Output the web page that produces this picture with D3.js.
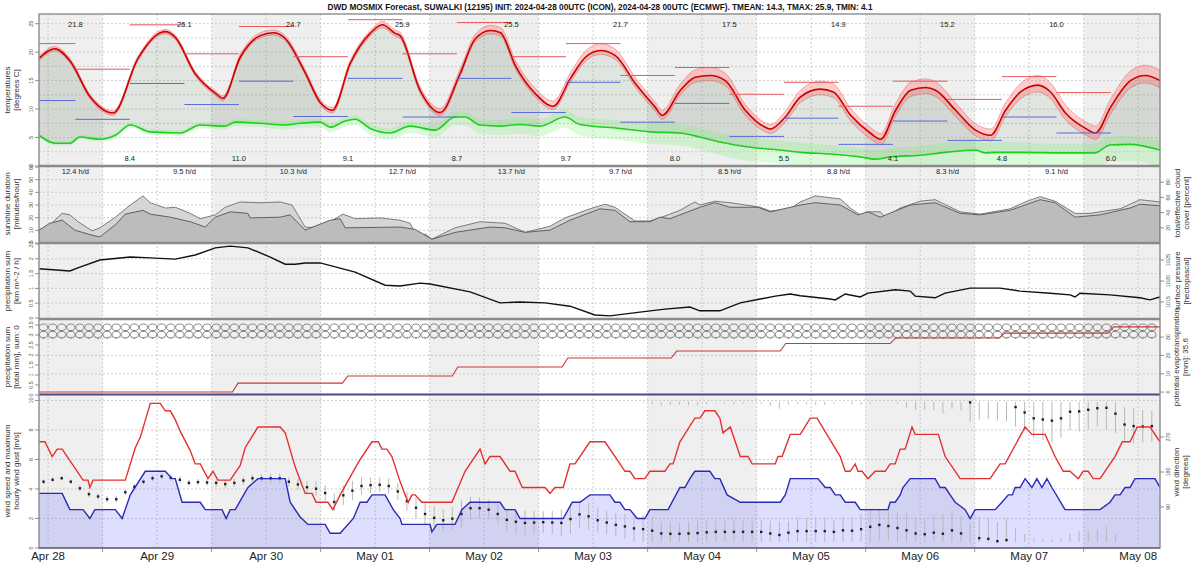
<!DOCTYPE html>
<html>
<head>
<meta charset="utf-8">
<script src="https://cdn.jsdelivr.net/npm/d3@7"></script>
<style>
  body { margin: 0; background: #fff; }
  svg { display: block; font-family: "Liberation Sans", Arial, sans-serif; }
</style>
</head>
<body>
<svg id="chart" width="1200" height="571"></svg>
<script>
const title = 'DWD MOSMIX Forecast, SUWALKI (12195) INIT: 2024-04-28 00UTC (ICON), 2024-04-28 00UTC (ECMWF). TMEAN: 14.3, TMAX: 25.9, TMIN: 4.1';

// hours since 2024-04-28 00UTC
const startHour = -2, endHour = 244.8;

const maxLabels = ['21.8', '25.1', '24.7', '25.9', '25.5', '21.7', '17.5', '14.9', '15.2', '16.0'];
const minLabels = ['8.4', '11.0', '9.1', '8.7', '9.7', '8.0', '5.5', '4.1', '4.8', '6.0'];
const sunLabels = ['12.4 h/d', '9.5 h/d', '10.3 h/d', '12.7 h/d', '13.7 h/d', '9.7 h/d', '8.5 h/d', '8.8 h/d', '8.3 h/d', '9.1 h/d'];

// temperature [hour, degC]
const tempCurve = [[-2,18.9],[1.5,20.6],[4.8,18.5],[9.3,12.1],[14.3,9.3],[19.8,18.9],[24.7,23.4],[25.8,23.6],[28,22.6],[32.4,16.2],
  [36.8,12.8],[38.5,11.9],[42.3,19.1],[46.7,22.9],[49.6,23.4],[52.2,22.4],[56.6,16.4],[59.9,11.2],[62.6,9.8],[66.5,18],
  [70.9,23.3],[73.6,24.8],[76.4,23.3],[77.5,22.9],[81.9,13.3],[86.3,9.4],[90.7,16.2],[94,22.3],[97.4,23.8],[99.6,23.4],
  [102.9,17.6],[107.3,12.7],[111.2,10.5],[115,15.4],[118.3,19.1],[121.6,20.3],[124.9,19.4],[129.3,14.5],[133.7,10.3],[135.2,8.9],
  [139.2,13.3],[142.5,15.6],[145.8,15.9],[149.1,15.0],[153.5,9.8],[157.9,6.8],[159,6.5],[162.3,8.6],[165.6,12.1],[170,13.5],
  [172.9,13],[176.7,8.9],[181,5.8],[183.3,4.7],[186.6,9.8],[189.9,13.3],[193.2,13.8],[195.4,13.3],[199.8,9.8],[204.2,6.3],
  [207.5,5.4],[210.8,9.8],[214.1,13],[217.9,14.2],[220.7,13],[224,9.3],[228.4,6.6],[230.6,5.8],[233.9,10.3],[238.3,15],
  [241.6,15.9],[244.8,15]];
// ensemble spread [above, below]
const tempSpread = [[.4,.4],[.4,.4],[.4,.4],[.4,.4],[.4,.4],[.4,.4],[.4,.4],[.4,.4],[.4,.4],[.4,.4],
  [.4,.4],[.4,.4],[.5,.4],[.5,.4],[.5,.4],[.5,.4],[.5,.4],[.5,.4],[.5,.5],[.5,.5],
  [.5,.5],[.6,.5],[.6,.5],[.6,.5],[.6,.5],[.7,.5],[.8,.5],[.8,.5],[.9,.6],[.9,.6],
  [.9,.6],[.9,.6],[.9,.6],[1.0,.7],[1.1,.7],[1.2,.7],[1.1,.7],[1.0,.7],[.9,.7],[.9,.7],
  [1.1,.8],[1.3,.9],[1.4,.9],[1.3,.9],[1.0,.9],[.8,.8],[.8,.8],[1.0,.9],[1.2,1.0],[1.4,1.0],
  [1.4,1.0],[1.2,1.0],[1.0,1.0],[1.0,1.0],[1.2,1.0],[1.4,1.1],[1.5,1.1],[1.5,1.1],[1.3,1.1],[1.1,1.0],
  [1.1,1.0],[1.3,1.1],[1.5,1.2],[1.7,1.2],[1.6,1.2],[1.4,1.2],[1.2,1.1],[1.2,1.1],[1.4,1.2],[1.7,1.3],
  [1.8,1.3],[1.8,1.3]];

// dew point [hour, degC]
const dewCurve = [[-2,5.4],[1.5,4.0],[4.8,4.0],[7,5.1],[11.4,4.7],[14.8,5.4],[18.1,7.2],[22.5,6.0],[29.1,5.8],[33.5,7.2],
  [39,7.0],[41.2,7.7],[46.7,7.5],[52.2,7.2],[55.5,7.5],[59.9,7.7],[62.1,6.8],[65.4,7.9],[67.6,8.2],[70.9,6.6],
  [75.3,5.8],[79.7,7.0],[85.2,6.3],[89.6,8.6],[91.8,8.6],[95.1,7.2],[99.5,7.0],[103.9,7.3],[108.3,7.0],[113.8,8.6],
  [117.1,7.3],[125.9,6.6],[132.5,6.0],[139.1,5.8],[143.5,5.1],[147.9,4.2],[154.6,3.3],[161.2,2.8],[165.6,2.4],[172.2,2.1],
  [178.8,1.6],[182.1,1.2],[185.4,1.6],[192,1.9],[197.5,2.4],[204.1,2.8],[206.3,2.3],[208.5,2.4],[214,2.4],[222.8,2.3],
  [230.5,2.3],[233.8,3.7],[238.2,3.8],[244.8,2.8]];
const dewSpread = [[.4,.4],[.4,.4],[.4,.4],[.4,.4],[.4,.4],[.4,.5],[.5,.5],[.5,.5],[.5,.5],[.5,.6],
  [.5,.6],[.5,.7],[.6,.7],[.6,.8],[.6,.8],[.6,.9],[.6,.9],[.7,1.0],[.7,1.0],[.7,1.1],
  [.8,1.2],[.8,1.2],[.9,1.3],[1.0,1.4],[1.0,1.5],[1.0,1.5],[1.1,1.6],[1.2,1.7],[1.2,1.8],[1.3,1.9],
  [1.3,2.0],[1.4,2.0],[1.5,2.1],[1.5,2.2],[1.6,2.2],[1.6,2.3],[1.7,2.4],[1.7,2.4],[1.7,2.5],[1.6,2.5],
  [1.6,2.5],[1.5,2.5],[1.5,2.5],[1.6,2.6],[1.7,2.6],[1.8,2.7],[1.8,2.7],[1.8,2.7],[1.7,2.8],[1.6,2.8],
  [1.6,2.8],[1.5,2.9],[1.5,2.9],[1.6,3.0]];

// 12-hourly max / min bars
const segBounds = [-2, 6, 18, 30, 42, 54, 66, 78, 90, 102, 114, 126, 138, 150, 162, 174, 186, 198, 210, 222, 234];
const segRed = [21.5, 17, 24.8, 19.7, 24.5, 19.2, 25.7, 19.7, 25.2, 19.2, 21.5, 15.9, 17.3, 12.6, 14.7, 10.5, 14.9, 11.7, 15.7, 12.9];
const segBlue = [11.5, 8.2, 14.5, 10.8, 14.9, 8.7, 15.4, 8.6, 15.4, 9.4, 14.7, 7.7, 11, 5.2, 8.4, 3.8, 7.9, 4.5, 8.6, 5.8];

// cloud cover [hour, percent]
const cloudTotal = [[-2,17],[0.4,24],[3.1,39],[4.8,37],[6.6,28],[9.7,16],[11.4,20],[14.8,34],[18.1,50],[20.9,62],
  [22.5,53],[25.8,46],[28,47],[31.3,39],[33.5,32],[36.8,37],[39,47],[42.3,54],[46.7,53],[51.1,54],
  [53.7,50],[56.6,21],[59.9,20],[62.1,28],[64.9,38],[67.6,32],[73.1,33],[77.5,30],[79.7,26],[81.5,5],
  [83,12],[84.5,5],[89.6,20],[95.1,28],[100.6,26],[105,14],[110.5,22],[113.8,33],[119.3,45],[122.6,51],
  [124.8,47],[129.2,29],[132.5,29],[134.7,33],[139.1,43],[142.4,54],[143.5,50],[146.8,55],[150.2,53],[156.8,47],
  [159,42],[163.4,45],[165.6,54],[168.9,62],[174.4,58],[176.6,46],[178.8,37],[180.5,41],[183.2,41],[184.3,34],
  [187.6,46],[192,55],[195.3,57],[200.8,41],[205.2,38],[211.8,45],[215.1,54],[218.4,61],[221.7,55],[226.1,39],
  [229.4,39],[236,45],[240.4,57],[244.8,54]];
const cloudEff = [[-2,17],[0.4,26],[3.1,30],[5.9,17],[9.2,11],[11.4,8],[14.8,24],[17,38],[20.9,43],[22.5,38],
  [26.9,34],[31.3,28],[34.6,21],[36.8,34],[40.1,41],[44,39],[44.5,33],[51.1,34],[53.3,37],[56.6,17],
  [62.1,30],[64.3,32],[65.4,20],[77.5,21],[80.8,18],[84.5,5],[89.6,14],[97.3,21],[100.6,20],[105,14],
  [110.5,17],[114.9,30],[121.5,45],[124.8,43],[128.1,28],[132.5,28],[134.7,34],[136.9,32],[143.5,47],[146.8,53],
  [150.2,47],[156.3,47],[159,41],[165.6,50],[168.9,53],[174.4,50],[178.3,37],[180.5,41],[183.2,34],[189.8,50],
  [195.3,53],[200.8,39],[205.2,37],[211.8,43],[218.4,57],[221.7,53],[226.1,34],[231.6,37],[238.2,46],[240.4,51],
  [244.8,49]];

// surface pressure [hour, hPa]
const pressure = [[-2,1022.9],[4.8,1022.4],[7,1023.3],[11.4,1025],[18.1,1025.7],[22.5,1025.5],[28,1025.2],[32.4,1026.2],[36.8,1027.9],[40.1,1028.3],
  [44,1027.9],[48.9,1025.7],[52.2,1024],[54.4,1024],[56.6,1024.3],[59.9,1024.3],[67.6,1022.1],[74.2,1019],[77.5,1018.8],[81.9,1019.5],
  [84.1,1019.3],[92.9,1017.4],[99.5,1014.8],[103.9,1015],[109.4,1014.8],[114.9,1014],[120.4,1011.9],[123.7,1011.7],[130.3,1012.6],[135.8,1013.3],
  [141.3,1013.8],[143.5,1012.9],[147.9,1012.9],[152.4,1014.8],[156.8,1015.7],[160.1,1016.4],[163.4,1016.9],[165.6,1016.5],[172.2,1015.7],[173.3,1015.5],
  [175.5,1016.9],[178.8,1016.2],[180.5,1017.1],[186.5,1017.9],[189.8,1017.6],[190.9,1016.4],[195.3,1016],[197.5,1017.1],[203,1018.3],[209.6,1018.3],
  [214,1017.6],[220.6,1017.1],[225,1016.7],[226.1,1016.2],[227.2,1017.1],[233.8,1016.7],[240.4,1016],[242.6,1015.5],[244.8,1016.2]];

// cumulative potential evapotranspiration [hour, mm]
const petSum = [[-2,0],[40.6,0],[41.8,4.9],[64.8,4.9],[66,8.8],[89,8.8],[90.2,13.7],[113.2,13.7],[114.4,18.6],[137.2,18.6],
  [138.4,22.4],[161.2,22.4],[162.4,26.5],[185.4,26.5],[186.6,29.5],[209.4,29.5],[210.6,32.2],[233.4,32.2],[234.6,35.6],[244.8,35.6]];

// wind gust / wind speed [hour, m/s]
const gust = [[-2,7.2],[-0.7,7.2],[0.9,6.2],[2.0,6.7],[3.1,6.7],[7.7,4.6],[8.8,4.6],[9.2,4.1],[9.9,4.6],[17.0,4.6],
  [19.2,6.8],[20.3,7.5],[22.5,9.8],[24.7,9.8],[25.8,9.3],[26.9,9.3],[28.0,8.7],[29.1,7.9],[31.3,6.6],[32.4,5.7],
  [33.5,5.7],[35.2,4.7],[36.3,5.2],[37.4,4.6],[40.1,4.6],[42.3,5.6],[43.4,6.8],[46.2,8.2],[51.1,8.2],[52.2,7.8],
  [54.4,5.5],[55.5,4.6],[56.6,3.7],[58.1,3.7],[59.0,3.1],[61.6,3.1],[62.7,2.6],[64.3,3.6],[68.3,5.8],[71.3,7.2],
  [72.7,7.2],[73.5,6.7],[74.6,6.7],[75.7,6.2],[77.5,4.5],[78.6,3.6],[79.3,3.1],[80.1,3.6],[80.8,3.6],[82.3,3.1],
  [88.9,3.1],[90.3,4.1],[91.8,5.2],[95.1,6.7],[96.2,5.7],[97.3,6.2],[99.5,6.2],[101.7,5.2],[102.8,5.2],[104.4,4.1],
  [109.4,4.1],[110.5,3.7],[111.6,4.1],[113.4,4.1],[114.9,5.7],[116.0,5.7],[119.3,7.2],[122.6,7.2],[125.9,5.7],[127.0,5.2],
  [128.1,5.2],[129.2,4.7],[131.4,4.7],[132.5,5.2],[135.8,5.2],[136.9,5.7],[137.6,5.7],[139.1,7.2],[142.4,8.8],[143.5,8.8],
  [144.6,9.3],[146.8,9.3],[147.9,8.8],[148.6,7.8],[150.2,8.2],[151.3,7.2],[152.4,6.2],[154.1,6.2],[155.0,5.7],[160.1,5.7],
  [160.7,6.2],[161.6,6.2],[163.4,7.7],[165.6,7.7],[167.8,8.8],[169.3,8.8],[174.4,6.2],[175.5,5.2],[176.6,5.2],[177.7,5.7],
  [178.3,5.2],[179.2,5.2],[180.5,4.7],[182.1,5.2],[184.3,5.2],[185.4,5.7],[186.5,5.7],[187.6,6.7],[188.7,6.7],[190.2,8.2],
  [190.9,7.7],[196.0,7.7],[197.5,6.2],[200.8,4.7],[207.4,4.7],[209.6,5.7],[210.7,5.7],[215.1,8.2],[216.6,7.7],[219.5,7.7],
  [221.7,6.2],[223.5,5.2],[225.0,5.2],[226.8,4.7],[227.9,5.2],[229.0,5.2],[230.1,4.7],[231.6,4.7],[234.9,6.2],[236.5,7.2],
  [238.2,7.2],[239.8,8.2],[242.6,8.2],[244.8,7.2]];
const wind = [[-2,3.7],[3.1,3.7],[4.8,2.6],[7.7,2.6],[9.2,2.0],[10.3,2.6],[14.8,2.6],[16.3,2.0],[18.1,3.6],[21.4,5.2],
  [25.8,5.2],[27.3,4.7],[28.0,4.7],[29.5,3.1],[33.5,3.1],[34.6,2.6],[38.3,2.6],[39.2,2.0],[40.1,2.6],[41.2,2.6],
  [44.0,4.1],[46.2,4.7],[52.2,4.7],[53.3,3.1],[55.5,2.1],[57.2,1.6],[61.0,1.6],[62.1,1.0],[64.3,1.0],[67.2,2.0],
  [68.7,3.1],[70.2,3.1],[71.3,3.6],[74.2,3.6],[76.0,2.6],[77.5,2.0],[77.9,1.6],[84.1,1.6],[84.5,1.1],[85.6,1.6],
  [89.6,1.6],[91.1,2.6],[92.9,3.1],[99.5,3.1],[100.6,2.6],[102.8,2.6],[103.9,2.0],[113.4,2.0],[115.4,3.1],[117.1,3.1],
  [119.3,3.6],[123.7,3.6],[124.8,3.1],[125.9,3.1],[127.0,2.6],[128.1,2.6],[129.7,2.0],[131.4,2.0],[132.5,2.6],[136.5,2.6],
  [139.1,4.1],[140.2,4.1],[141.3,4.7],[142.4,5.2],[145.7,5.2],[146.8,4.7],[147.9,4.7],[149.5,3.6],[152.4,3.1],[161.2,3.1],
  [162.3,3.6],[163.4,4.7],[169.5,4.7],[171.1,4.1],[172.2,4.1],[173.3,3.6],[174.4,3.6],[175.5,3.1],[177.7,3.1],[178.8,2.6],
  [184.9,2.6],[185.4,3.1],[186.5,3.1],[187.6,3.6],[188.2,4.1],[189.8,4.7],[195.3,4.7],[196.4,4.1],[197.5,4.1],[198.6,3.6],
  [199.7,3.1],[201.9,2.6],[203.0,2.0],[204.1,2.6],[208.5,2.6],[210.0,3.1],[211.4,3.6],[212.3,3.6],[212.9,4.1],[214.0,4.1],
  [215.1,4.7],[216.6,4.1],[217.7,4.7],[218.8,4.1],[219.9,4.7],[221.0,4.1],[223.9,2.6],[231.6,2.6],[233.8,3.1],[234.9,3.6],
  [236.0,3.6],[237.1,4.1],[238.2,4.1],[239.3,4.7],[243.7,4.7],[244.8,4.1]];

// wind direction every 2 h from hour -1 [degrees] and its spread [+/- degrees]
const dirFirstHour = -1, dirStepHours = 2;
const windDir = [155,160,164,155,138,123,117,110,110,128,142,155,164,169,165,160,152,154,153,152,
  149,152,158,164,164,164,164,155,148,141,137,126,103,120,132,144,146,147,144,130,
  105,88,72,62,56,60,72,87,87,83,72,57,52,49,50,51,50,49,59,71,
  66,56,50,44,40,35,33,29,22,21,21,22,23,25,26,26,26,26,26,26,
  22,18,24,28,28,28,28,26,30,29,33,39,44,41,36,30,22,20,24,21,
  30,22,359,10,8,2,5,347,333,318,315,312,318,335,336,340,344,345,330,302,
  298,297,298];
const dirSpread = [6,6,6,6,8,8,8,8,8,8,8,8,8,8,8,8,8,8,8,10,
  10,10,10,10,10,12,12,12,14,16,18,20,22,25,25,22,20,18,20,22,
  25,28,30,30,28,30,35,30,28,25,25,28,30,32,30,28,30,35,38,36,
  35,32,30,30,32,35,36,35,30,28,28,30,32,30,28,30,32,30,28,30,
  32,35,30,32,34,36,35,30,32,35,40,42,40,38,40,45,42,40,45,50,
  48,45,50,55,52,50,55,50,48,50,52,55,50,48,52,50,48,55,50,45,
  45,42,40];

// ---------------------------------------------------------------
const svg = d3.select('#chart');
const left = 39, right = 1160;
const T0 = Date.UTC(2024, 3, 28, 0);
const toDate = h => new Date(T0 + h * 3600e3);

const x = d3.scaleUtc().domain([toDate(startHour), toDate(endHour)]).range([left, right]);
const hx = h => x(toDate(h));

const panels = {
  temp: [14, 166], sun: [166, 243], pres: [243, 319], prec: [319, 395], wind: [395, 548]
};

const yT = d3.scaleLinear().domain([0, 26.7]).range([166, 14]);
const ySun = d3.scaleLinear().domain([0, 60]).range([243, 167]);
const yCloud = d3.scaleLinear().domain([0, 100]).range([243, 167]);
const yPrecRate = d3.scaleLinear().domain([0, 2.5]).range([318, 244]);
const yPres = d3.scaleLinear().domain([1010.95, 1029.05]).range([319, 243]);
const yPrecSum = d3.scaleLinear().domain([0, 3.5]).range([395, 325]);
const yPet = d3.scaleLinear().domain([-1.6, 39.9]).range([395, 319]);
const yWind = d3.scaleLinear().domain([0, 10.37]).range([548, 395]);
const yDir = d3.scaleLinear().domain([0, 360]).range([542, 402]);

const defs = svg.append('defs');
Object.entries(panels).forEach(([k, p]) => {
  defs.append('clipPath').attr('id', 'clip-' + k)
    .append('rect').attr('x', left).attr('y', p[0]).attr('width', right - left).attr('height', p[1] - p[0]);
});

// day shading
const bg = svg.append('g');
for (let h = -12; h < endHour; h += 48) {
  const a = Math.max(h, startHour), b = Math.min(h + 24, endHour);
  bg.append('rect').attr('x', hx(a)).attr('y', 14).attr('width', hx(b) - hx(a)).attr('height', 548 - 14)
    .attr('fill', '#efefef');
}

// grid
const grid = svg.append('g').attr('stroke', '#c2c2c2').attr('stroke-width', 0.8).attr('stroke-dasharray', '2,2');
d3.range(0, 241, 12).forEach(h => {
  grid.append('line').attr('x1', hx(h)).attr('x2', hx(h)).attr('y1', 14).attr('y2', 548);
});
const hGrid = ys => ys.forEach(y => grid.append('line').attr('x1', left).attr('x2', right).attr('y1', y).attr('y2', y));
hGrid(d3.range(2.5, 26, 2.5).map(yT));
hGrid([10, 20, 30, 40, 50].map(ySun));
hGrid([0.5, 1, 1.5, 2].map(yPrecRate));
hGrid([10, 20, 30].map(yPet));
hGrid([2, 4, 6, 8, 10].map(yWind));

// ---------------- temperature panel
const tp = svg.append('g').attr('clip-path', 'url(#clip-temp)');
const mono = d3.curveMonotoneX;

defs.append('clipPath').attr('id', 'above-dew').append('path')
  .attr('d', d3.area().x(d => hx(d[0])).y0(14).y1(d => yT(d[1])).curve(mono)(dewCurve));
tp.append('path')
  .attr('d', d3.area().x(d => hx(d[0])).y0(166).y1(d => yT(d[1])).curve(mono)(tempCurve))
  .attr('fill', 'rgba(100,125,100,0.2)').attr('clip-path', 'url(#above-dew)');

const dewBand = dewCurve.map((d, i) => [d[0], d[1] + dewSpread[i][0], d[1] - dewSpread[i][1]]);
tp.append('path')
  .attr('d', d3.area().x(d => hx(d[0])).y0(d => yT(d[2])).y1(d => yT(d[1])).curve(mono)(dewBand))
  .attr('fill', 'rgba(110,240,110,0.25)');
tp.append('path')
  .attr('d', d3.line().x(d => hx(d[0])).y(d => yT(d[1])).curve(mono)(dewCurve))
  .attr('fill', 'none').attr('stroke', '#1fcf1f').attr('stroke-width', 1.6);

const tempBand = tempCurve.map((d, i) => [d[0], d[1] + tempSpread[i][0], d[1] - tempSpread[i][1]]);
tp.append('path')
  .attr('d', d3.area().x(d => hx(d[0])).y0(d => yT(d[2])).y1(d => yT(d[1])).curve(mono)(tempBand))
  .attr('fill', 'rgba(255,90,90,0.3)').attr('stroke', 'rgba(230,60,60,0.55)').attr('stroke-width', 0.7);
tp.append('path')
  .attr('d', d3.line().x(d => hx(d[0])).y(d => yT(d[1])).curve(mono)(tempCurve))
  .attr('fill', 'none').attr('stroke', '#cc0000').attr('stroke-width', 1.6);

segRed.forEach((v, i) => {
  tp.append('line').attr('x1', hx(segBounds[i])).attr('x2', hx(segBounds[i + 1]))
    .attr('y1', yT(v)).attr('y2', yT(v)).attr('stroke', '#e85a5a').attr('stroke-width', 1);
});
segBlue.forEach((v, i) => {
  tp.append('line').attr('x1', hx(segBounds[i])).attr('x2', hx(segBounds[i + 1]))
    .attr('y1', yT(v)).attr('y2', yT(v)).attr('stroke', '#5a6ad8').attr('stroke-width', 1);
});

const labels = svg.append('g').attr('font-size', 7.5).attr('fill', '#222').attr('text-anchor', 'middle');
maxLabels.forEach((t, i) => labels.append('text').attr('x', hx(6 + 24 * i)).attr('y', 27).text(t));
minLabels.forEach((t, i) => labels.append('text').attr('x', hx(18 + 24 * i)).attr('y', 161).text(t));
sunLabels.forEach((t, i) => labels.append('text').attr('x', hx(6 + 24 * i)).attr('y', 174).text(t));

// ---------------- cloud panel
const sp = svg.append('g').attr('clip-path', 'url(#clip-sun)');
sp.append('path')
  .attr('d', d3.area().x(d => hx(d[0])).y0(243).y1(d => yCloud(d[1]))(cloudTotal))
  .attr('fill', '#d5d5d5').attr('stroke', '#6e6e6e').attr('stroke-width', 0.9);
sp.append('path')
  .attr('d', d3.area().x(d => hx(d[0])).y0(243).y1(d => yCloud(d[1]))(cloudEff))
  .attr('fill', '#bcbcbc').attr('stroke', '#555').attr('stroke-width', 0.9);

// ---------------- pressure panel
svg.append('path').attr('clip-path', 'url(#clip-pres)')
  .attr('d', d3.line().x(d => hx(d[0])).y(d => yPres(d[1]))(pressure))
  .attr('fill', 'none').attr('stroke', '#111').attr('stroke-width', 1.4);

// ---------------- precipitation panel
const pp = svg.append('g').attr('clip-path', 'url(#clip-prec)');
d3.range(windDir.length).forEach(i => {
  const cx = hx(dirFirstHour + dirStepHours * i);
  [327.3, 334.6].forEach(cy => {
    pp.append('ellipse').attr('cx', cx).attr('cy', cy).attr('rx', 4.1).attr('ry', 3.3)
      .attr('fill', 'none').attr('stroke', '#5a5a5a').attr('stroke-width', 0.7);
    pp.append('line').attr('x1', cx).attr('x2', cx).attr('y1', cy + 3.3).attr('y2', cy + 4.4)
      .attr('stroke', '#5a5a5a').attr('stroke-width', 0.7);
  });
});
pp.append('path')
  .attr('d', d3.line().x(d => hx(d[0])).y(d => yPet(d[1]))(petSum))
  .attr('fill', 'none').attr('stroke', '#c83a3a').attr('stroke-width', 1.1);

// ---------------- wind panel
const wp = svg.append('g').attr('clip-path', 'url(#clip-wind)');
wp.append('path')
  .attr('d', d3.area().x(d => hx(d[0])).y0(548).y1(d => yWind(d[1]))(wind))
  .attr('fill', 'rgba(90,90,255,0.2)');

windDir.forEach((d, i) => {
  const cx = hx(dirFirstHour + dirStepHours * i);
  const lo = d - dirSpread[i], hi = d + dirSpread[i];
  const parts = [[Math.max(lo, 0), Math.min(hi, 360)]];
  if (lo < 0) parts.push([360 + lo, 360]);
  if (hi > 360) parts.push([0, hi - 360]);
  parts.forEach(p => wp.append('line').attr('x1', cx).attr('x2', cx)
    .attr('y1', yDir(p[0])).attr('y2', yDir(p[1])).attr('stroke', '#b8b8b8').attr('stroke-width', 1));
});
windDir.forEach((d, i) => {
  const cx = hx(dirFirstHour + dirStepHours * i);
  wp.append('rect').attr('x', cx - 1.2).attr('y', yDir(d) - 1.2).attr('width', 2.4).attr('height', 2.4).attr('fill', '#222');
});
wp.append('path')
  .attr('d', d3.line().x(d => hx(d[0])).y(d => yWind(d[1]))(gust))
  .attr('fill', 'none').attr('stroke', '#e53030').attr('stroke-width', 1.4);
wp.append('path')
  .attr('d', d3.line().x(d => hx(d[0])).y(d => yWind(d[1]))(wind))
  .attr('fill', 'none').attr('stroke', '#2a2ab8').attr('stroke-width', 1.4);

// precipitation sum (zero) line
svg.append('line').attr('x1', left).attr('x2', right).attr('y1', yPrecSum(0) - 0.5).attr('y2', yPrecSum(0) - 0.5)
  .attr('stroke', '#4a4a86').attr('stroke-width', 2);

// ---------------- frames
const frame = svg.append('g').attr('fill', 'none');
frame.append('rect').attr('x', left).attr('y', 14).attr('width', right - left).attr('height', 548 - 14)
  .attr('stroke', '#8c8c8c').attr('stroke-width', 1.4);
[166, 243, 319].forEach(y => frame.append('line').attr('x1', left).attr('x2', right).attr('y1', y).attr('y2', y)
  .attr('stroke', '#8a8a8a').attr('stroke-width', 2.4));
frame.append('line').attr('x1', left).attr('x2', right).attr('y1', 548).attr('y2', 548)
  .attr('stroke', '#6a6a80').attr('stroke-width', 1.4);

// ---------------- axes
const ax = svg.append('g').attr('font-size', 5.5).attr('fill', '#555');
function yTicks(scale, ticks, side, fmt) {
  ticks.forEach(t => {
    const y = scale(t);
    const x0 = side === 'left' ? left : right;
    const dir = side === 'left' ? -1 : 1;
    ax.append('line').attr('x1', x0).attr('x2', x0 + dir * 4).attr('y1', y).attr('y2', y)
      .attr('stroke', '#777').attr('stroke-width', 0.8);
    ax.append('text').attr('transform', `translate(${x0 + dir * 8},${y}) rotate(-90)`)
      .attr('text-anchor', 'middle').attr('dy', '0.35em').text(fmt ? fmt(t) : t);
  });
}
yTicks(yT, [0, 5, 10, 15, 20, 25], 'left');
yTicks(ySun, [0, 10, 20, 30, 40, 50, 60], 'left');
yTicks(yPrecRate, [0, 0.5, 1, 1.5, 2, 2.5], 'left');
yTicks(yPrecSum, [0, 0.5, 1, 1.5, 2, 2.5, 3, 3.5], 'left');
yTicks(yWind, [0, 2, 4, 6, 8, 10], 'left');
yTicks(yCloud, [20, 40, 60, 80], 'right');
yTicks(yPres, [1015, 1020, 1025], 'right');
yTicks(yPet, [0, 10, 20, 30], 'right');
yTicks(yDir, [90, 180, 270], 'right');

const titles = svg.append('g').attr('font-size', 8).attr('fill', '#333').attr('text-anchor', 'middle');
function axTitle(xc, yc, lines) {
  lines.forEach((t, i) => titles.append('text')
    .attr('transform', `translate(${xc + i * 9},${yc}) rotate(-90)`).attr('dy', '0.35em').text(t));
}
axTitle(7, 90, ['temperatures', '[degrees C]']);
axTitle(7, 204, ['sunshine duration', '[minutes/hour]']);
axTitle(7, 281, ['precipitation sum', '[km m^-2 / h]']);
axTitle(7, 357, ['precipitation sum', '[total mm], sum: 0']);
axTitle(7, 471, ['wind speed and maximum', 'hourly wind gust [m/s]']);
axTitle(1177, 203, ['total/effective cloud', 'cover [percent]']);
axTitle(1177, 281, ['surface pressure', '[hectopascal]']);
axTitle(1176, 357, ['potential evapotranspiration', '[mm]: 35.6']);
axTitle(1176, 472, ['wind direction', '[degrees]']);

// time axis
const days = d3.utcDay.range(toDate(0), toDate(endHour));
const fmtDay = d3.utcFormat('%b %d');
svg.append('g').attr('font-size', 11.5).attr('fill', '#222').attr('text-anchor', 'middle')
  .selectAll('text').data(days).join('text')
  .attr('x', d => x(d)).attr('y', 560).text(d => fmtDay(d));
d3.range(12, endHour, 24).forEach(h => {
  svg.append('line').attr('x1', hx(h)).attr('x2', hx(h)).attr('y1', 548).attr('y2', 552)
    .attr('stroke', '#777').attr('stroke-width', 0.8);
});

svg.append('text').attr('x', 600).attr('y', 10).attr('text-anchor', 'middle')
  .attr('font-size', 9).attr('font-weight', 'bold').attr('fill', '#111')
  .attr('textLength', 545).attr('lengthAdjust', 'spacingAndGlyphs').text(title);
</script>
</body>
</html>
